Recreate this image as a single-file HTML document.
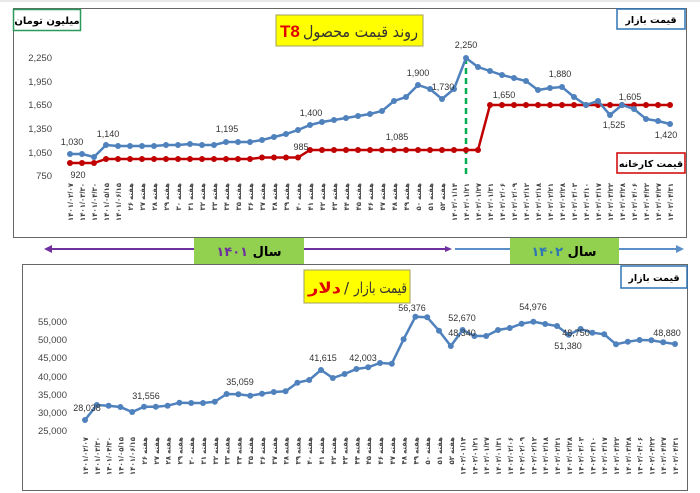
<!DOCTYPE html>
<html><head><meta charset="utf-8"><style>
body{margin:0;background:#fff;}
svg{display:block;font-family:"Liberation Sans","DejaVu Sans",sans-serif;}
.t{font-size:7px;fill:#444;font-weight:bold}
.ax{font-size:9.5px;fill:#444;text-anchor:end}
.dl{font-size:9px;fill:#333;text-anchor:middle}
</style></head><body>
<svg width="700" height="493" viewBox="0 0 700 493">
<defs>
<marker id="mb" markerUnits="userSpaceOnUse" markerWidth="8" markerHeight="8" refX="4" refY="4"><circle cx="4" cy="4" r="3" fill="#4f81bd"/></marker>
<marker id="mr" markerUnits="userSpaceOnUse" markerWidth="8" markerHeight="8" refX="4" refY="4"><circle cx="4" cy="4" r="3" fill="#c00000"/></marker>
</defs>
<rect x="0" y="0" width="700" height="2" fill="#e8e8e8"/>
<!-- top chart -->
<rect x="13.5" y="8.5" width="673" height="229" fill="#fff" stroke="#666"/>
<rect x="13.5" y="9.5" width="67" height="21" fill="#fff" stroke="#2a9a5a" stroke-width="1.5"/>
<text x="47" y="24" font-size="10" font-weight="bold" text-anchor="middle" font-family="DejaVu Sans">میلیون تومان</text>
<rect x="276" y="15" width="147" height="31" fill="#ffff00" stroke="#a0a060"/>
<text x="303" y="37" font-size="16" fill="#333" font-family="DejaVu Sans" textLength="115" lengthAdjust="spacingAndGlyphs">روند قیمت محصول</text>
<text x="280" y="37" font-size="17" fill="#e00000" font-weight="bold">T8</text>
<rect x="617" y="9" width="68" height="20" fill="#fff" stroke="#2e75b6" stroke-width="1.5"/>
<text x="651" y="23" font-size="9.5" font-weight="bold" text-anchor="middle" font-family="DejaVu Sans">قیمت بازار</text>
<rect x="617" y="153" width="68" height="20" fill="#fff" stroke="#d00000" stroke-width="1.5"/>
<text x="651" y="167" font-size="9.5" font-weight="bold" text-anchor="middle" font-family="DejaVu Sans">قیمت کارخانه</text>
<g class="ax"><text x="52" y="61">2,250</text><text x="52" y="85">1,950</text><text x="52" y="108">1,650</text><text x="52" y="132">1,350</text><text x="52" y="156">1,050</text><text x="52" y="179">750</text></g>
<line x1="466" y1="58" x2="466" y2="176" stroke="#00b050" stroke-width="2.5" stroke-dasharray="6,4"/>
<polyline fill="none" stroke="#c00000" stroke-width="2.5" marker-start="url(#mr)" marker-mid="url(#mr)" marker-end="url(#mr)" points="70,163 82,163 94,163 106,159 118,159 130,159 142,159 154,159 166,159 178,159 190,159 202,159 214,159 226,159 238,159 250,159 262,157.5 274,157.5 286,157.5 298,157.5 310,150 322,150 334,150 346,150 358,150 370,150 382,150 394,150 406,150 418,150 430,150 442,150 454,150 466,150 478,150 490,105 502,105 514,105 526,105 538,105 550,105 562,105 574,105 586,105 598,105 610,105 622,105 634,105 646,105 658,105 670,105"/>
<polyline fill="none" stroke="#4f81bd" stroke-width="2.5" marker-start="url(#mb)" marker-mid="url(#mb)" marker-end="url(#mb)" points="70,154 82,154 94,157 106,145 118,146 130,146 142,146 154,146 166,145 178,145 190,144 202,145 214,145 226,142 238,142 250,142 262,140 274,137 286,134 298,130 310,125 322,122 334,120 346,118 358,116 370,114 382,111 394,101 406,97 418,85 430,89 442,99 454,89 466,58 478,67 490,71 502,75 514,78 526,81 538,90 550,88 562,87 574,97 586,105 598,101 610,115 622,105 634,109 646,119 658,121 670,124"/>
<g class="dl"><text x="72" y="145">1,030</text><text x="78" y="178">920</text><text x="108" y="137">1,140</text><text x="227" y="132">1,195</text><text x="311" y="116">1,400</text><text x="301" y="150">985</text><text x="397" y="140">1,085</text><text x="418" y="76">1,900</text><text x="443" y="90">1,730</text><text x="466" y="48">2,250</text><text x="504" y="98">1,650</text><text x="560" y="77">1,880</text><text x="630" y="100">1,605</text><text x="614" y="128">1,525</text><text x="666" y="138">1,420</text></g>
<g class="t" text-anchor="end">
<text transform="translate(73,183) rotate(-90)">۱۴۰۱/۰۲/۰۷</text><text transform="translate(85,183) rotate(-90)">۱۴۰۱/۰۳/۳۰</text><text transform="translate(97,183) rotate(-90)">۱۴۰۱/۰۴/۳۰</text><text transform="translate(109,183) rotate(-90)">۱۴۰۱/۰۵/۱۵</text><text transform="translate(121,183) rotate(-90)">۱۴۰۱/۰۶/۱۵</text>
<text transform="translate(133,183) rotate(-90)">هفته ۲۶</text><text transform="translate(145,183) rotate(-90)">هفته ۲۷</text><text transform="translate(157,183) rotate(-90)">هفته ۲۸</text><text transform="translate(169,183) rotate(-90)">هفته ۲۹</text><text transform="translate(181,183) rotate(-90)">هفته ۳۰</text><text transform="translate(193,183) rotate(-90)">هفته ۳۱</text><text transform="translate(205,183) rotate(-90)">هفته ۳۲</text><text transform="translate(217,183) rotate(-90)">هفته ۳۳</text><text transform="translate(229,183) rotate(-90)">هفته ۳۴</text><text transform="translate(241,183) rotate(-90)">هفته ۳۵</text><text transform="translate(253,183) rotate(-90)">هفته ۳۶</text><text transform="translate(265,183) rotate(-90)">هفته ۳۷</text><text transform="translate(277,183) rotate(-90)">هفته ۳۸</text><text transform="translate(289,183) rotate(-90)">هفته ۳۹</text><text transform="translate(301,183) rotate(-90)">هفته ۴۰</text><text transform="translate(313,183) rotate(-90)">هفته ۴۱</text><text transform="translate(325,183) rotate(-90)">هفته ۴۲</text><text transform="translate(337,183) rotate(-90)">هفته ۴۳</text><text transform="translate(349,183) rotate(-90)">هفته ۴۴</text><text transform="translate(361,183) rotate(-90)">هفته ۴۵</text><text transform="translate(373,183) rotate(-90)">هفته ۴۶</text><text transform="translate(385,183) rotate(-90)">هفته ۴۷</text><text transform="translate(397,183) rotate(-90)">هفته ۴۸</text><text transform="translate(409,183) rotate(-90)">هفته ۴۹</text><text transform="translate(421,183) rotate(-90)">هفته ۵۰</text><text transform="translate(433,183) rotate(-90)">هفته ۵۱</text><text transform="translate(445,183) rotate(-90)">هفته ۵۲</text>
<text transform="translate(457,183) rotate(-90)">۱۴۰۲/۰۱/۱۴</text><text transform="translate(469,183) rotate(-90)">۱۴۰۲/۰۱/۲۱</text><text transform="translate(481,183) rotate(-90)">۱۴۰۲/۰۱/۲۷</text><text transform="translate(493,183) rotate(-90)">۱۴۰۲/۰۱/۳۱</text><text transform="translate(505,183) rotate(-90)">۱۴۰۲/۰۲/۰۶</text><text transform="translate(517,183) rotate(-90)">۱۴۰۲/۰۲/۰۹</text><text transform="translate(529,183) rotate(-90)">۱۴۰۲/۰۲/۱۲</text><text transform="translate(541,183) rotate(-90)">۱۴۰۲/۰۲/۱۸</text><text transform="translate(553,183) rotate(-90)">۱۴۰۲/۰۲/۲۱</text><text transform="translate(565,183) rotate(-90)">۱۴۰۲/۰۲/۲۸</text><text transform="translate(577,183) rotate(-90)">۱۴۰۲/۰۳/۰۳</text><text transform="translate(589,183) rotate(-90)">۱۴۰۲/۰۳/۱۰</text><text transform="translate(601,183) rotate(-90)">۱۴۰۲/۰۳/۱۷</text><text transform="translate(613,183) rotate(-90)">۱۴۰۲/۰۳/۲۲</text><text transform="translate(625,183) rotate(-90)">۱۴۰۲/۰۳/۲۸</text><text transform="translate(637,183) rotate(-90)">۱۴۰۲/۰۴/۰۶</text><text transform="translate(649,183) rotate(-90)">۱۴۰۲/۰۴/۲۲</text><text transform="translate(661,183) rotate(-90)">۱۴۰۲/۰۴/۲۷</text><text transform="translate(673,183) rotate(-90)">۱۴۰۲/۰۴/۳۱</text>
</g>
<!-- arrows -->
<line x1="50" y1="249" x2="447" y2="249" stroke="#7030a0" stroke-width="2"/>
<polygon points="44,249 52,245 52,253" fill="#7030a0"/>
<polygon points="452,249 445,246 445,252" fill="#7030a0"/>
<line x1="455" y1="249" x2="678" y2="249" stroke="#5b8fc7" stroke-width="2"/>
<polygon points="684,249 676,245 676,253" fill="#5b8fc7"/>
<rect x="194" y="238" width="110" height="26" fill="#92d050"/>
<text x="249" y="256" font-size="13" font-weight="bold" text-anchor="middle" font-family="DejaVu Sans" direction="rtl">سال <tspan fill="#7030a0">۱۴۰۱</tspan></text>
<rect x="510" y="238" width="109" height="26" fill="#92d050"/>
<text x="564" y="256" font-size="13" font-weight="bold" text-anchor="middle" font-family="DejaVu Sans" direction="rtl">سال <tspan fill="#2e75b6">۱۴۰۲</tspan></text>
<!-- bottom chart -->
<rect x="22.5" y="264.5" width="665" height="226" fill="#fff" stroke="#666"/>
<rect x="621" y="266" width="66" height="22" fill="#fff" stroke="#2e75b6" stroke-width="1.5"/>
<text x="654" y="281" font-size="9.5" font-weight="bold" text-anchor="middle" font-family="DejaVu Sans">قیمت بازار</text>
<rect x="304" y="270" width="106" height="33" fill="#ffff00" stroke="#a0a060"/>
<text x="354" y="293" font-size="15" fill="#333" font-family="DejaVu Sans" textLength="53" lengthAdjust="spacingAndGlyphs">قیمت بازار</text>
<text x="344" y="293" font-size="15" fill="#333" font-family="DejaVu Sans">/</text>
<text x="308" y="293" font-size="15" fill="#e00000" font-weight="bold" font-family="DejaVu Sans" textLength="33" lengthAdjust="spacingAndGlyphs">دلار</text>
<g class="ax"><text x="67" y="325">55,000</text><text x="67" y="343">50,000</text><text x="67" y="361">45,000</text><text x="67" y="380">40,000</text><text x="67" y="398">35,000</text><text x="67" y="416">30,000</text><text x="67" y="434">25,000</text></g>
<polyline fill="none" stroke="#4f81bd" stroke-width="2.5" marker-start="url(#mb)" marker-mid="url(#mb)" marker-end="url(#mb)" points="85,420 96.8,405 108.6,405.7 120.4,407 132.2,412 144,406.7 155.8,406.7 167.6,405.7 179.4,402.7 191.2,403 203,403 214.8,401.7 226.6,394 238.4,394.3 250.2,395.7 262,393.7 273.8,392 285.6,391.3 297.4,382.7 309.2,380 321,370 332.8,378 344.6,374 356.4,369 368.2,367.3 380,363 391.8,363.7 403.6,339.3 415.4,316.7 427.2,317.3 439,330.7 450.8,346 462.6,330 474.4,336 486.2,336 498,330 509.8,328 521.6,323.7 533.4,321.7 545.2,324 557,326 568.8,334.7 580.6,329 592.4,332.7 604.2,334.3 616,344.3 627.8,341.7 639.6,340 651.4,340.3 663.2,342.3 675,344"/>
<g class="dl"><text x="87" y="411">28,038</text><text x="146" y="399">31,556</text><text x="240" y="385">35,059</text><text x="323" y="361">41,615</text><text x="363" y="361">42,003</text><text x="412" y="311">56,376</text><text x="462" y="321">52,670</text><text x="462" y="336">48,340</text><text x="533" y="310">54,976</text><text x="568" y="349">51,380</text><text x="576" y="336">48,750</text><text x="667" y="336">48,880</text></g>
<g class="t" text-anchor="end">
<text transform="translate(88,437) rotate(-90)">۱۴۰۱/۰۲/۰۷</text><text transform="translate(99.8,437) rotate(-90)">۱۴۰۱/۰۳/۳۰</text><text transform="translate(111.6,437) rotate(-90)">۱۴۰۱/۰۴/۳۰</text><text transform="translate(123.4,437) rotate(-90)">۱۴۰۱/۰۵/۱۵</text><text transform="translate(135.2,437) rotate(-90)">۱۴۰۱/۰۶/۱۵</text>
<text transform="translate(147,437) rotate(-90)">هفته ۲۶</text><text transform="translate(158.8,437) rotate(-90)">هفته ۲۷</text><text transform="translate(170.6,437) rotate(-90)">هفته ۲۸</text><text transform="translate(182.4,437) rotate(-90)">هفته ۲۹</text><text transform="translate(194.2,437) rotate(-90)">هفته ۳۰</text><text transform="translate(206,437) rotate(-90)">هفته ۳۱</text><text transform="translate(217.8,437) rotate(-90)">هفته ۳۲</text><text transform="translate(229.6,437) rotate(-90)">هفته ۳۳</text><text transform="translate(241.4,437) rotate(-90)">هفته ۳۴</text><text transform="translate(253.2,437) rotate(-90)">هفته ۳۵</text><text transform="translate(265,437) rotate(-90)">هفته ۳۶</text><text transform="translate(276.8,437) rotate(-90)">هفته ۳۷</text><text transform="translate(288.6,437) rotate(-90)">هفته ۳۸</text><text transform="translate(300.4,437) rotate(-90)">هفته ۳۹</text><text transform="translate(312.2,437) rotate(-90)">هفته ۴۰</text><text transform="translate(324,437) rotate(-90)">هفته ۴۱</text><text transform="translate(335.8,437) rotate(-90)">هفته ۴۲</text><text transform="translate(347.6,437) rotate(-90)">هفته ۴۳</text><text transform="translate(359.4,437) rotate(-90)">هفته ۴۴</text><text transform="translate(371.2,437) rotate(-90)">هفته ۴۵</text><text transform="translate(383,437) rotate(-90)">هفته ۴۶</text><text transform="translate(394.8,437) rotate(-90)">هفته ۴۷</text><text transform="translate(406.6,437) rotate(-90)">هفته ۴۸</text><text transform="translate(418.4,437) rotate(-90)">هفته ۴۹</text><text transform="translate(430.2,437) rotate(-90)">هفته ۵۰</text><text transform="translate(442,437) rotate(-90)">هفته ۵۱</text><text transform="translate(453.8,437) rotate(-90)">هفته ۵۲</text>
<text transform="translate(465.6,437) rotate(-90)">۱۴۰۲/۰۱/۱۴</text><text transform="translate(477.4,437) rotate(-90)">۱۴۰۲/۰۱/۲۱</text><text transform="translate(489.2,437) rotate(-90)">۱۴۰۲/۰۱/۲۷</text><text transform="translate(501,437) rotate(-90)">۱۴۰۲/۰۱/۳۱</text><text transform="translate(512.8,437) rotate(-90)">۱۴۰۲/۰۲/۰۶</text><text transform="translate(524.6,437) rotate(-90)">۱۴۰۲/۰۲/۰۹</text><text transform="translate(536.4,437) rotate(-90)">۱۴۰۲/۰۲/۱۲</text><text transform="translate(548.2,437) rotate(-90)">۱۴۰۲/۰۲/۱۸</text><text transform="translate(560,437) rotate(-90)">۱۴۰۲/۰۲/۲۱</text><text transform="translate(571.8,437) rotate(-90)">۱۴۰۲/۰۲/۲۸</text><text transform="translate(583.6,437) rotate(-90)">۱۴۰۲/۰۳/۰۳</text><text transform="translate(595.4,437) rotate(-90)">۱۴۰۲/۰۳/۱۰</text><text transform="translate(607.2,437) rotate(-90)">۱۴۰۲/۰۳/۱۷</text><text transform="translate(619,437) rotate(-90)">۱۴۰۲/۰۳/۲۲</text><text transform="translate(630.8,437) rotate(-90)">۱۴۰۲/۰۳/۲۸</text><text transform="translate(642.6,437) rotate(-90)">۱۴۰۲/۰۴/۰۶</text><text transform="translate(654.4,437) rotate(-90)">۱۴۰۲/۰۴/۲۲</text><text transform="translate(666.2,437) rotate(-90)">۱۴۰۲/۰۴/۲۷</text><text transform="translate(678,437) rotate(-90)">۱۴۰۲/۰۴/۳۱</text>
</g>
</svg>
</body></html>
